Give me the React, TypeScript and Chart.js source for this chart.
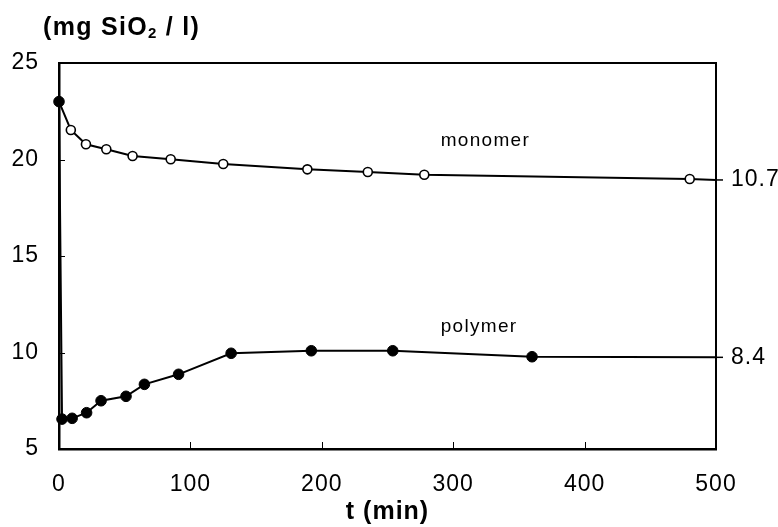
import React, { useEffect, useRef } from "react";
import { Chart, registerables } from "chart.js";

Chart.register(...registerables);

// ---- data ----
const polymerTime = [0, 2.3, 10, 21, 32, 51, 65, 91, 131, 192, 254, 360, 500];
const polymerValue = [23.0, 6.55, 6.59, 6.88, 7.5, 7.73, 8.35, 8.87, 9.96, 10.09, 10.09, 9.78, 9.75];
const polymerRadius = [5.3, 5.3, 5.3, 5.3, 5.3, 5.3, 5.3, 5.3, 5.3, 5.3, 5.3, 5.3, 0];

const monomerTime = [0, 9, 20.5, 36, 56, 85, 125, 189, 235, 278, 480, 500];
const monomerValue = [23.0, 21.53, 20.79, 20.53, 20.18, 20.01, 19.77, 19.49, 19.35, 19.21, 18.99, 18.94];
const monomerRadius = [0, 4.5, 4.5, 4.5, 4.5, 4.5, 4.5, 4.5, 4.5, 4.5, 4.5, 0];

const rightTickValues = [18.94, 9.75];
const rightTickLabels = ["10.7", "8.4"];

const seriesLabels = ["monomer", "polymer"];
const seriesLabelX = [290.5, 290.5];
const seriesLabelY = [20.7, 11.06];

const xTitle = "t (min)";
const yTitleMain = "(mg SiO";
const yTitleSub = "2";
const yTitleEnd = " / l)";

const FONT = "'Liberation Sans', Arial, Helvetica, sans-serif";

const decorPlugin = {
  id: "decor",
  beforeDraw(chart: any) {
    chart.ctx.letterSpacing = "1px";
  },
  beforeDatasetsDraw(chart: any) {
    chart.ctx.letterSpacing = "1.3px";
  },
  afterDraw(chart: any) {
    const ctx = chart.ctx;
    const { left, right, top, bottom } = chart.chartArea;
    const xs = chart.scales.x;
    const ys = chart.scales.y;
    const y2 = chart.scales.y2;
    ctx.save();
    ctx.strokeStyle = "#000";
    // top frame line
    ctx.lineWidth = 2;
    ctx.beginPath();
    ctx.moveTo(left - 1, top);
    ctx.lineTo(right + 1, top);
    ctx.stroke();
    // inward ticks
    ctx.lineWidth = 1;
    xs.ticks.forEach((t: any) => {
      if (t.value <= xs.min || t.value >= xs.max) return;
      const px = Math.round(xs.getPixelForValue(t.value)) + 0.5;
      ctx.beginPath();
      ctx.moveTo(px, bottom);
      ctx.lineTo(px, bottom - 7);
      ctx.stroke();
    });
    ys.ticks.forEach((t: any) => {
      if (t.value <= ys.min || t.value >= ys.max) return;
      const py = Math.round(ys.getPixelForValue(t.value)) + 0.5;
      ctx.beginPath();
      ctx.moveTo(left, py);
      ctx.lineTo(left + 6, py);
      ctx.stroke();
    });
    // right outward ticks
    ctx.lineWidth = 1.5;
    y2.ticks.forEach((t: any) => {
      const py = y2.getPixelForValue(t.value);
      ctx.beginPath();
      ctx.moveTo(right, py);
      ctx.lineTo(right + 7, py);
      ctx.stroke();
    });
    // series labels
    ctx.fillStyle = "#000";
    ctx.font = `19px ${FONT}`;
    ctx.letterSpacing = "1.3px";
    ctx.textAlign = "left";
    ctx.textBaseline = "alphabetic";
    seriesLabels.forEach((s, i) => {
      ctx.fillText(s, xs.getPixelForValue(seriesLabelX[i]), ys.getPixelForValue(seriesLabelY[i]));
    });
    // y title with subscript
    ctx.letterSpacing = "1.3px";
    ctx.font = `bold 25px ${FONT}`;
    let x = 43;
    const base = 35;
    ctx.fillText(yTitleMain, x, base);
    x += ctx.measureText(yTitleMain).width;
    ctx.font = `bold 15px ${FONT}`;
    ctx.fillText(yTitleSub, x, base + 3);
    x += ctx.measureText(yTitleSub).width;
    ctx.font = `bold 25px ${FONT}`;
    ctx.fillText(yTitleEnd, x, base);
    ctx.restore();
  },
};

export default function App() {
  const ref = useRef<HTMLCanvasElement | null>(null);
  useEffect(() => {
    if (!ref.current) return;
    const tickFont = { family: FONT, size: 23 };
    const chart = new Chart(ref.current, {
      type: "scatter",
      data: {
        datasets: [
          {
            label: "polymer",
            data: polymerTime.map((t, i) => ({ x: t, y: polymerValue[i] })),
            showLine: true,
            borderColor: "#000",
            borderWidth: 2,
            backgroundColor: "#000",
            pointBackgroundColor: "#000",
            pointBorderColor: "#000",
            pointBorderWidth: 1,
            pointRadius: polymerRadius,
            pointHoverRadius: polymerRadius,
            tension: 0,
            clip: false,
          },
          {
            label: "monomer",
            data: monomerTime.map((t, i) => ({ x: t, y: monomerValue[i] })),
            showLine: true,
            borderColor: "#000",
            borderWidth: 2,
            backgroundColor: "#fff",
            pointBackgroundColor: "#fff",
            pointBorderColor: "#000",
            pointBorderWidth: 1.6,
            pointRadius: monomerRadius,
            pointHoverRadius: monomerRadius,
            tension: 0,
            clip: false,
          },
        ],
      },
      options: {
        responsive: false,
        animation: false,
        devicePixelRatio: 1,
        layout: { padding: { top: 63, left: 0, right: 0, bottom: 0 } },
        plugins: {
          legend: { display: false },
          tooltip: { enabled: false },
          title: { display: false },
        },
        scales: {
          x: {
            type: "linear",
            position: "bottom",
            min: 0,
            max: 500,
            ticks: { stepSize: 100, color: "#000", font: tickFont, padding: 22, maxRotation: 0 },
            grid: { display: false, drawTicks: false },
            border: { display: true, color: "#000", width: 2.5 },
            title: {
              display: true,
              text: xTitle,
              color: "#000",
              font: { family: FONT, size: 25, weight: "bold" },
              padding: { top: 0, bottom: 0 },
            },
            afterFit: (s: any) => {
              s.height = 78;
            },
          },
          y: {
            type: "linear",
            position: "left",
            min: 5,
            max: 25,
            ticks: { stepSize: 5, color: "#000", font: tickFont, padding: 20 },
            grid: { display: false, drawTicks: false },
            border: { display: true, color: "#000", width: 2.5 },
            afterFit: (s: any) => {
              s.width = 59;
            },
          },
          y2: {
            type: "linear",
            position: "right",
            min: 5,
            max: 25,
            afterBuildTicks: (s: any) => {
              s.ticks = rightTickValues.map((v) => ({ value: v }));
            },
            ticks: {
              color: "#000",
              font: tickFont,
              padding: 15,
              callback: (_v: any, i: number) => rightTickLabels[i],
            },
            grid: { display: false, drawTicks: false },
            border: { display: true, color: "#000", width: 2 },
            afterFit: (s: any) => {
              s.width = 62;
            },
          },
        },
      },
      plugins: [decorPlugin],
    } as any);
    return () => chart.destroy();
  }, []);
  return (
    <div style={{ position: "absolute", left: 0, top: 0, width: 778, height: 527, background: "#fff" }}>
      <canvas ref={ref} width={778} height={527} style={{ display: "block", width: 778, height: 527 }} />
    </div>
  );
}
